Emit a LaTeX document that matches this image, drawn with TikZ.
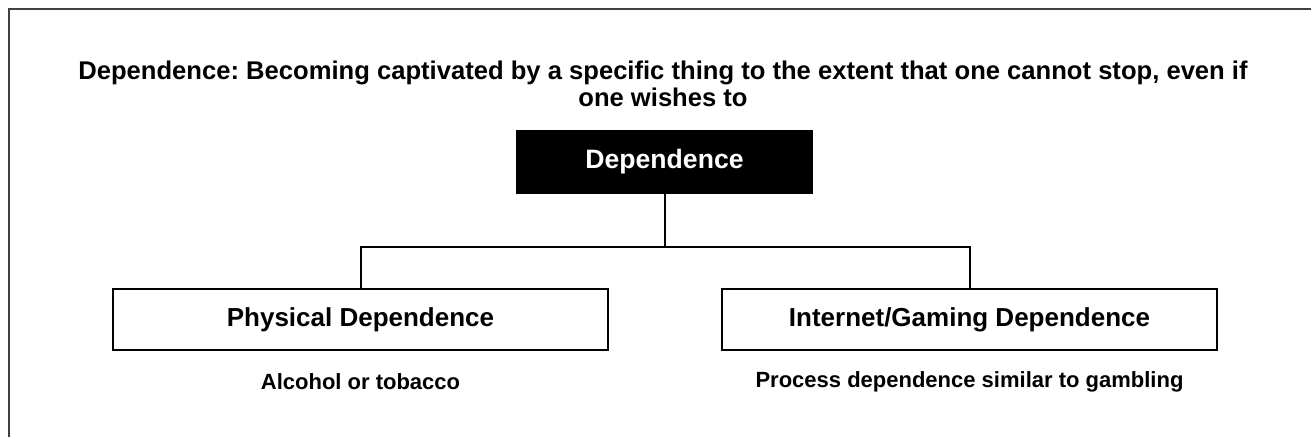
\documentclass[tikz,border=0pt]{standalone}
\usepackage{fontspec}
\setmainfont{Liberation Sans}

\begin{document}
\begin{tikzpicture}[x=0.5pt, y=-0.5pt]
	\tikzset{
		txt/.style = {inner sep=0pt, font=\bfseries\frenchspacing\fontsize{13}{13.5}\selectfont},
		title/.style = {txt, align=center, font=\bfseries\frenchspacing\fontsize{12.8}{13.5}\selectfont},
		root/.style = {rectangle, fill=black, text=white, txt, font=\bfseries\fontsize{13.3}{14}\selectfont, minimum width=148.5pt, minimum height=32pt, text centered},
		block/.style = {rectangle, draw, line width=1.2pt, txt, minimum width=247.5pt, minimum height=30.5pt, text centered},
		note/.style = {txt, font=\bfseries\fontsize{11}{13}\selectfont},
		link/.style = {draw, line width=1pt}
	}
	\useasboundingbox (0, 0) rectangle (1311, 437);
	% outer frame, cut off at right and bottom
	\draw[line width=0.8pt, black!75] (9, 437) -- (9, 9) -- (1311, 9);
	\node[title] (title) at (663, 84) {Dependence: Becoming captivated by a specific thing to the extent that one cannot stop, even if\\one wishes to};
	\node[root] (dep) at (664.5, 162) {Dependence};
	\node[block] (phys) at (360.5, 319.5) {Physical Dependence};
	\node[block] (net) at (969.5, 319.5) {Internet/Gaming Dependence};
	\node[note] (alc) at (360.5, 382) {Alcohol or tobacco};
	\node[note] (proc) at (969.5, 382) {Process dependence similar to gambling};
	\coordinate (split) at (664.5, 247);
	\draw[link] (dep) -- (split);
	\draw[link] (split) -| (phys);
	\draw[link] (split) -| (net);
\end{tikzpicture}
\end{document}
